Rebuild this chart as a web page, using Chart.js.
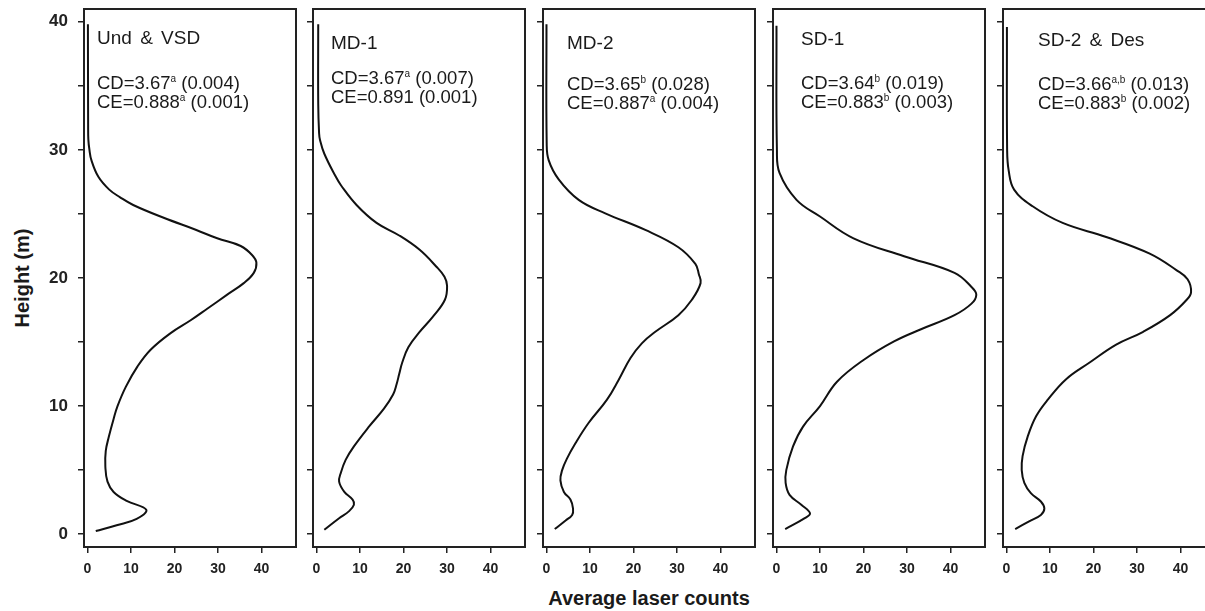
<!DOCTYPE html>
<html>
<head>
<meta charset="utf-8">
<script src="https://cdn.jsdelivr.net/npm/chart.js@4.4.1/dist/chart.umd.min.js"></script>
<style>
    html, body { margin: 0; padding: 0; background: #fff; overflow: hidden; }
    #wrap {
        position: relative; width: 1205px; height: 611px; overflow: hidden;
        font-family: "Liberation Sans", Arial, sans-serif; color: #1a1a1a;
    }
    canvas.panel { position: absolute; top: 0; }
    .note { position: absolute; white-space: nowrap; }
    .note.name { font-size: 19px; line-height: 18px; word-spacing: 3px; }
    .note.stat { font-size: 18.5px; line-height: 19px; }
    .note sup { font-size: 10px; line-height: 0; vertical-align: 7px; }
    .axis-title { position: absolute; font-weight: bold; white-space: nowrap; }
</style>
</head>
<body>
<div id="wrap">
    <div class="axis-title" id="ytitle" style="left:22px; top:278px; font-size:20px; transform:translate(-50%,-50%) rotate(-90deg);">Height (m)</div>
    <div class="axis-title" id="xtitle" style="left:649px; top:598px; font-size:20px; transform:translate(-50%,-50%);">Average laser counts</div>
</div>
<script>
// panel labels and statistics
const panelNames = ["Und & VSD", "MD-1", "MD-2", "SD-1", "SD-2 & Des"];
const cdValues = ["3.67", "3.67", "3.65", "3.64", "3.66"];
const cdSup = ["a", "a", "b", "b", "a,b"];
const cdSe = ["0.004", "0.007", "0.028", "0.019", "0.013"];
const ceValues = ["0.888", "0.891", "0.887", "0.883", "0.883"];
const ceSup = ["a", "", "a", "b", "b"];
const ceSe = ["0.001", "0.001", "0.004", "0.003", "0.002"];

// axes
const xTicks = [0, 10, 20, 30, 40];
const yTicks = [0, 5, 10, 15, 20, 25, 30, 35, 40];

// profiles: height (m) and average laser counts
const heightsUnd = [0.25, 0.7, 1.2, 1.9, 2.6, 3.3, 4.1, 5.3, 6.5, 7.6, 9.0, 10.0, 11.5, 13.1, 14.4, 15.7, 16.7, 17.6, 18.7, 19.6, 20.4, 21.2, 21.8, 22.5, 23.1, 23.75, 24.7, 25.7, 26.3, 26.9, 27.9, 29.2, 30.0, 30.8, 32.0, 39.8];
const countsUnd = [1.9, 6.7, 11.3, 13.5, 9.0, 6.0, 4.6, 4.1, 4.2, 4.9, 6.0, 6.9, 8.8, 11.5, 14.5, 19.1, 23.7, 27.5, 32.1, 35.9, 38.2, 38.8, 37.8, 35.2, 29.8, 25.0, 17.5, 10.5, 7.5, 5.0, 2.5, 0.9, 0.45, 0.2, 0.15, 0.1];

const heightsMd1 = [0.34, 1.25, 1.8, 2.3, 2.7, 3.3, 4.1, 4.8, 5.8, 6.85, 8.45, 9.8, 10.9, 11.7, 12.5, 13.4, 14.6, 15.75, 17.0, 18.3, 19.4, 20.1, 20.9, 22.2, 23.3, 24.3, 25.7, 27.2, 27.9, 29.7, 30.8, 31.3, 33.6, 39.8];
const countsMd1 = [1.8, 5.2, 7.5, 8.6, 8.3, 6.4, 5.2, 5.6, 6.7, 8.6, 12.2, 15.5, 17.6, 18.4, 19.0, 19.7, 21.1, 23.6, 26.8, 29.5, 30.0, 29.4, 27.5, 23.7, 19.1, 13.8, 9.2, 5.7, 4.45, 1.8, 0.8, 0.6, 0.4, 0.4];

const heightsMd2 = [0.4, 1.07, 1.5, 2.0, 2.7, 3.3, 4.2, 5.0, 5.9, 7.1, 8.7, 10.5, 12.06, 13.75, 14.9, 15.8, 17.1, 18.3, 19.6, 20.3, 21.1, 22.4, 23.75, 25.05, 26.1, 27.7, 29.2, 30.5, 39.8];
const countsMd2 = [1.9, 4.4, 5.9, 6.1, 5.5, 4.0, 3.2, 3.6, 4.7, 6.65, 9.7, 13.9, 16.6, 19.3, 21.9, 25.0, 30.3, 33.4, 35.4, 35.0, 34.2, 30.3, 22.7, 13.5, 7.4, 2.8, 0.5, 0.05, 0.0];

const heightsSd1 = [0.4, 1.25, 1.64, 2.3, 3.07, 4.0, 5.0, 6.85, 8.4, 10.0, 11.9, 13.6, 15.05, 16.0, 17.1, 18.0, 18.7, 19.3, 20.4, 21.7, 23.1, 24.8, 26.1, 28.2, 30.0, 39.7];
const countsSd1 = [2.0, 6.5, 7.7, 5.7, 3.0, 2.1, 2.25, 3.8, 6.1, 10.0, 13.9, 20.0, 27.0, 33.2, 40.9, 44.8, 45.9, 44.8, 40.9, 29.3, 17.7, 10.0, 4.6, 0.7, 0.1, 0.0];

const heightsSd2 = [0.4, 1.0, 1.5, 2.0, 2.55, 3.2, 4.0, 5.0, 6.1, 7.6, 9.2, 10.5, 12.1, 13.4, 14.8, 15.8, 17.1, 18.3, 18.9, 19.9, 20.6, 21.9, 23.2, 24.3, 25.6, 26.9, 28.4, 30.0, 39.6];
const countsSd2 = [2.0, 5.2, 7.9, 8.7, 7.9, 5.6, 4.1, 3.5, 3.7, 4.85, 6.8, 9.5, 13.7, 19.1, 25.2, 31.4, 37.6, 41.4, 42.4, 41.6, 39.1, 32.9, 22.9, 12.9, 6.0, 1.75, 0.5, 0.15, 0.1];

const profiles = [
    { heights: heightsUnd, counts: countsUnd },
    { heights: heightsMd1, counts: countsMd1 },
    { heights: heightsMd2, counts: countsMd2 },
    { heights: heightsSd1, counts: countsSd1 },
    { heights: heightsSd2, counts: countsSd2 },
];

// layout (pixels)
const panelLeft = [84, 313, 543, 773, 1003];
const PANEL_W = 212;
const Y_AXIS_W = 60;
const CANVAS_H = 590;
const X_AXIS_H = 43;
const noteLeft = [97, 331, 567, 801, 1038];
const nameTop = [29, 34, 34, 30, 31];
const statTop = [73, 68, 74, 73, 74];

const FONT = "'Liberation Sans', Arial, sans-serif";
const INK = "#222";

const framePlugin = {
    id: "frame",
    afterDraw(chart) {
        const { ctx, chartArea: a } = chart;
        ctx.save();
        ctx.strokeStyle = INK;
        ctx.lineWidth = 2;
        ctx.strokeRect(a.left, a.top, a.right - a.left, a.bottom - a.top);
        ctx.restore();
    },
};

const wrap = document.getElementById("wrap");

profiles.forEach((p, i) => {
    const canvas = document.createElement("canvas");
    canvas.className = "panel";
    canvas.width = Y_AXIS_W + PANEL_W + 4;
    canvas.height = CANVAS_H;
    canvas.style.left = panelLeft[i] - Y_AXIS_W + "px";
    wrap.appendChild(canvas);

    new Chart(canvas, {
        type: "scatter",
        data: {
            datasets: [
                {
                    data: p.heights.map((h, k) => ({ x: p.counts[k], y: h })),
                    showLine: true,
                    borderColor: "#111",
                    borderWidth: 2,
                    pointRadius: 0,
                    tension: 0.4,
                    fill: false,
                },
            ],
        },
        options: {
            responsive: false,
            animation: false,
            devicePixelRatio: 1,
            layout: { padding: { top: 9, right: 4, bottom: 0, left: 0 } },
            plugins: { legend: { display: false }, tooltip: { enabled: false } },
            scales: {
                x: {
                    type: "linear",
                    min: -0.8,
                    max: 47.9,
                    afterBuildTicks: (s) => {
                        s.ticks = xTicks.map((v) => ({ value: v }));
                    },
                    afterFit: (s) => {
                        s.height = X_AXIS_H;
                        s.paddingLeft = 0;
                        s.paddingRight = 0;
                    },
                    border: { display: false },
                    grid: { drawOnChartArea: false, drawTicks: true, tickLength: 6, color: INK, lineWidth: 1.5 },
                    ticks: {
                        autoSkip: false,
                        maxRotation: 0,
                        padding: 8,
                        color: INK,
                        font: { family: FONT, size: 14, weight: "bold" },
                    },
                },
                y: {
                    type: "linear",
                    min: -1,
                    max: 41,
                    afterBuildTicks: (s) => {
                        s.ticks = yTicks.map((v) => ({ value: v }));
                    },
                    afterFit: (s) => {
                        s.width = Y_AXIS_W;
                        s.paddingTop = 0;
                        s.paddingBottom = 0;
                    },
                    border: { display: false },
                    grid: { drawOnChartArea: false, drawTicks: true, tickLength: 6, color: INK, lineWidth: 1.5 },
                    ticks: {
                        padding: 10,
                        color: INK,
                        font: { family: FONT, size: 17, weight: "bold" },
                        callback: (v) => (i === 0 && v % 10 === 0 ? String(v) : ""),
                    },
                },
            },
        },
        plugins: [framePlugin],
    });

    // annotation text
    const name = document.createElement("div");
    name.className = "note name";
    name.style.left = noteLeft[i] + "px";
    name.style.top = nameTop[i] + "px";
    name.textContent = panelNames[i];
    wrap.appendChild(name);

    const stat = document.createElement("div");
    stat.className = "note stat";
    stat.style.left = noteLeft[i] + "px";
    stat.style.top = statTop[i] + "px";
    const cdSupHtml = cdSup[i] ? "<sup>" + cdSup[i] + "</sup>" : "";
    const ceSupHtml = ceSup[i] ? "<sup>" + ceSup[i] + "</sup>" : "";
    stat.innerHTML =
        "CD=" + cdValues[i] + cdSupHtml + " (" + cdSe[i] + ")<br>" +
        "CE=" + ceValues[i] + ceSupHtml + " (" + ceSe[i] + ")";
    wrap.appendChild(stat);
});
</script>
</body>
</html>
